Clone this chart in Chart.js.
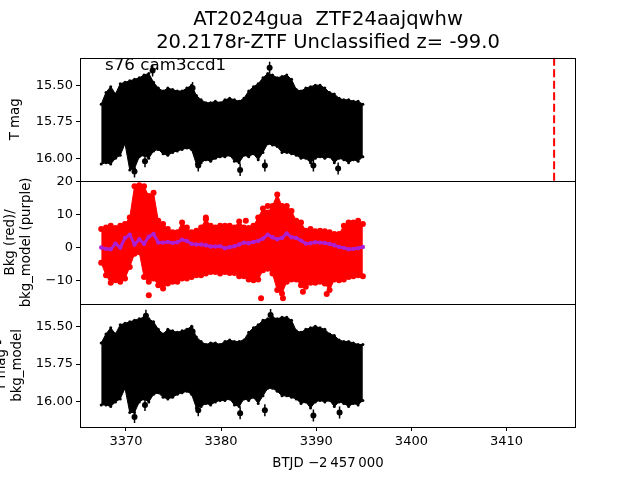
<!DOCTYPE html>
<html lang="en">
<head>
<meta charset="UTF-8">
<title>AT2024gua light curve</title>
<style>
  html, body { margin: 0; padding: 0; background: #fff; }
  #wrap { width: 640px; height: 480px; }
</style>
</head>
<body>
<div id="wrap"><canvas id="lc" width="640" height="480"></canvas></div>
<script src="https://cdn.jsdelivr.net/npm/chart.js"></script>
<script>
// ---- data ----
const titleLines = ['AT2024gua  ZTF24aajqwhw', '20.2178r-ZTF Unclassified z= -99.0'];
const sectorLabel = 's76 cam3ccd1';
const sectorLabelAt = [3367.8, 15.395];
const eventTime = 3415.0;

const times = [
  3367.4, 3367.9, 3368.4, 3368.9, 3369.4, 3369.9, 3370.4, 3370.9, 3371.4, 3371.9,
  3372.4, 3372.9, 3373.4, 3373.9, 3374.4, 3374.9, 3375.4, 3375.9, 3376.4, 3376.9,
  3377.4, 3377.9, 3378.4, 3378.9, 3379.4, 3379.9, 3380.4, 3380.9, 3381.4, 3381.9,
  3382.4, 3382.9, 3383.4, 3383.9, 3384.4, 3384.9, 3385.4, 3385.9, 3386.4, 3386.9,
  3387.4, 3387.9, 3388.4, 3388.9, 3389.4, 3389.9, 3390.4, 3390.9, 3391.4, 3391.9,
  3392.4, 3392.9, 3393.4, 3393.9, 3394.4, 3394.9
];

// T mag: bright (upper) and faint (lower) edge of the scatter band
const tmagHi = [
  15.63, 15.55, 15.51, 15.56, 15.49, 15.48, 15.47, 15.46, 15.45, 15.43,
  15.42, 15.48, 15.52, 15.54, 15.52, 15.53, 15.54, 15.54, 15.52, 15.50,
  15.57, 15.60, 15.62, 15.62, 15.61, 15.62, 15.60, 15.59, 15.60, 15.61,
  15.59, 15.54, 15.51, 15.49, 15.45, 15.42, 15.43, 15.45, 15.44, 15.43,
  15.46, 15.53, 15.54, 15.52, 15.51, 15.50, 15.50, 15.52, 15.55, 15.56,
  15.59, 15.60, 15.60, 15.61, 15.61, 15.63
];
const tmagLo = [
  16.04, 16.03, 16.04, 16.00, 15.98, 15.90, 16.08, 16.07, 15.99, 15.98,
  16.00, 15.95, 15.94, 15.97, 15.98, 15.96, 15.95, 15.94, 15.93, 15.94,
  16.04, 16.03, 16.01, 16.02, 16.00, 15.99, 15.99, 15.98, 16.02, 16.03,
  15.98, 15.99, 15.97, 16.01, 15.96, 15.90, 15.91, 15.92, 15.96, 15.96,
  15.97, 15.98, 16.00, 16.00, 16.03, 16.00, 15.99, 16.00, 15.99, 16.03,
  16.00, 16.01, 16.03, 16.01, 16.02, 15.99
];
const tmagOutT = [3370.9, 3372.0, 3372.8, 3377.0, 3377.6, 3382.0, 3384.6, 3385.1, 3389.7, 3392.3];
const tmagOut = [16.09, 16.02, 15.40, 15.52, 16.05, 16.08, 16.05, 15.38, 16.05, 16.07];

// background flux band and model
const bkgHi = [
  5.5, 6.0, 6.5, 5.8, 6.5, 7.0, 9.0, 18.5, 18.8, 18.5,
  15.5, 16.5, 8.0, 7.0, 5.5, 4.5, 4.5, 7.5, 6.0, 4.5,
  5.0, 6.0, 8.5, 6.5, 6.0, 6.5, 6.5, 6.5, 6.0, 7.8,
  6.0, 5.8, 6.5, 9.0, 11.7, 10.5, 12.5, 16.0, 12.5, 12.5,
  11.0, 8.0, 7.5, 5.0, 5.5, 4.8, 5.0, 4.8, 4.5, 4.0,
  4.0, 6.5, 7.5, 7.5, 8.0, 7.0
];
const bkgLo = [
  -4.7, -8.5, -10.8, -10.0, -10.5, -9.5, -6.0, -2.0, -1.5, -9.0,
  -10.5, -9.5, -11.5, -12.5, -11.0, -10.5, -10.5, -9.5, -9.5, -9.0,
  -8.5, -8.5, -8.0, -7.5, -7.5, -8.0, -7.5, -7.8, -7.8, -8.8,
  -8.8, -9.8, -10.0, -9.8, -7.0, -6.5, -8.0, -13.0, -14.0, -10.5,
  -9.8, -9.8, -11.5, -12.0, -10.8, -10.8, -10.5, -11.0, -13.0, -9.8,
  -10.0, -9.8, -9.0, -8.8, -8.5, -8.8
];
const bkgOutT = [3372.4, 3378.4, 3382.6, 3384.2, 3384.9, 3386.5, 3388.6, 3391.1];
const bkgOut = [-14.6, 9.0, 8.0, -15.5, 12.5, -15.5, -13.5, -14.2];
const bkgModel = [
  -0.1, -0.5, -0.6, 1.1, -0.1, 2.8, 3.8, 0.8, 2.4, 1.0,
  3.2, 4.0, 1.4, 1.4, 1.6, 1.3, 1.5, 2.3, 1.9, 1.0,
  0.8, 0.8, 0.6, 0.2, 0.2, 0.3, -0.3, 0.0, 0.3, 0.8,
  1.4, 1.2, 1.6, 1.9, 2.6, 3.8, 3.0, 2.4, 2.8, 4.2,
  3.0, 2.8, 2.0, 1.1, 1.2, 1.5, 1.4, 1.3, 1.0, 0.6,
  0.1, -0.2, -0.6, -0.5, -0.3, 0.1
];

// T mag - bkg_model band
const corrHi = [
  15.61, 15.55, 15.51, 15.55, 15.49, 15.48, 15.47, 15.46, 15.45, 15.44,
  15.45, 15.47, 15.52, 15.55, 15.52, 15.53, 15.54, 15.53, 15.52, 15.50,
  15.57, 15.60, 15.62, 15.61, 15.61, 15.62, 15.60, 15.59, 15.60, 15.60,
  15.59, 15.54, 15.51, 15.49, 15.46, 15.45, 15.44, 15.45, 15.44, 15.44,
  15.46, 15.53, 15.54, 15.52, 15.51, 15.50, 15.51, 15.52, 15.55, 15.56,
  15.59, 15.60, 15.60, 15.61, 15.62, 15.62
];
const corrLo = [
  16.02, 16.02, 16.03, 16.00, 15.98, 15.91, 16.07, 16.07, 16.00, 15.98,
  16.00, 15.95, 15.94, 15.97, 15.98, 15.97, 15.95, 15.94, 15.93, 15.95,
  16.04, 16.03, 16.01, 16.02, 16.00, 15.99, 15.99, 15.98, 16.02, 16.03,
  15.98, 15.99, 15.97, 16.01, 15.96, 15.91, 15.91, 15.93, 15.96, 15.96,
  15.97, 15.98, 16.01, 16.00, 16.04, 16.00, 15.99, 16.00, 15.99, 16.03,
  16.00, 16.01, 16.03, 16.01, 16.02, 15.99
];
const corrOutT = [3370.9, 3372.0, 3372.1, 3377.0, 3377.6, 3382.0, 3384.6, 3385.2, 3389.7, 3392.45];
const corrOut = [16.10, 16.02, 15.43, 15.535, 16.055, 16.075, 16.055, 15.425, 16.09, 16.07];

// axes
const xRange = [3365.17, 3417.3];
const xTicks = [3370, 3380, 3390, 3400, 3410];
const tmagRange = [15.313, 16.155];
const bkgRange = [-17.2, 20.1];
const corrRange = [15.352, 16.166];
const magTicks = [15.5, 15.75, 16.0];
const bkgTicks = [20, 10, 0, -10];

// ---- chart ----
const FONT = 'DejaVu Sans';
const PURPLE = '#ad1fd2';
Chart.defaults.font.family = FONT;
Chart.defaults.color = '#000';

const pts = (xs, ys) => xs.map((x, i) => ({x: x, y: ys[i]}));

// chart.js draws low "order" last, i.e. on top
function bandSets(axis, hi, lo, color, r) {
  const common = {
    yAxisID: axis, borderColor: color, borderWidth: 1, order: 5,
    pointRadius: r, pointBackgroundColor: color, pointBorderWidth: 0
  };
  return [
    Object.assign({data: pts(times, hi), fill: false}, common),
    Object.assign({data: pts(times, lo), fill: '-1', backgroundColor: color}, common)
  ];
}

// outlying points with short vertical error bars
function dots(axis, xs, ys, color, bars) {
  const sets = [{
    yAxisID: axis, data: pts(xs, ys), showLine: false, order: 3,
    pointRadius: 3, pointBackgroundColor: color, pointBorderWidth: 0
  }];
  if (bars) {
    sets.push({
      yAxisID: axis, data: pts(xs, ys), showLine: false, order: 3,
      pointStyle: 'line', rotation: 90, pointRadius: 6,
      pointBorderColor: color, pointBorderWidth: 1.5
    });
  }
  return sets;
}

function yAxis(range, reverse, weight, ticks, fmt, title, titlePad) {
  return {
    type: 'linear', position: 'left', stack: 'lc', weight: weight,
    min: range[0], max: range[1], reverse: reverse,
    afterBuildTicks: s => { s.ticks = ticks.map(v => ({value: v})); },
    afterFit: s => { s.width = 80; },
    ticks: {font: {size: 13}, color: '#000', padding: 3, callback: fmt},
    grid: {drawOnChartArea: false, drawTicks: true, tickLength: 4, color: '#000'},
    border: {display: false},
    title: {display: true, text: title, font: {size: 13.3}, padding: {top: titlePad, bottom: 0}}
  };
}

const magFmt = v => v.toFixed(2);
const bkgFmt = v => (v < 0 ? '\u2212' + Math.abs(v) : String(v));

const framePlugin = {
  id: 'frames',
  afterDatasetsDraw(chart) {
    const {ctx, chartArea} = chart;
    ctx.save();
    ctx.strokeStyle = '#000';
    ctx.lineWidth = 1;
    ['yTop', 'yMid', 'yBot'].forEach(id => {
      const s = chart.scales[id];
      ctx.strokeRect(Math.round(chartArea.left) + 0.5, Math.round(s.top) + 0.5,
        Math.round(chartArea.width) - 1, Math.round(s.bottom) - Math.round(s.top));
    });
    const x = chart.scales.x.getPixelForValue(sectorLabelAt[0]);
    const y = chart.scales.yTop.getPixelForValue(sectorLabelAt[1]);
    ctx.fillStyle = '#000';
    ctx.font = '16.7px "' + FONT + '"';
    ctx.textAlign = 'left';
    ctx.textBaseline = 'alphabetic';
    ctx.fillText(sectorLabel, x, y);
    ctx.restore();
  }
};

const datasets = [].concat(
  bandSets('yTop', tmagHi, tmagLo, '#000', 1.5),
  dots('yTop', tmagOutT, tmagOut, '#000', true),
  [{
    yAxisID: 'yTop', data: pts([eventTime, eventTime], tmagRange), order: 1,
    borderColor: '#ff0000', borderWidth: 2, borderDash: [8, 3.5], pointRadius: 0, fill: false
  }],
  bandSets('yMid', bkgHi, bkgLo, '#ff0000', 3),
  dots('yMid', bkgOutT, bkgOut, '#ff0000', false),
  [{
    yAxisID: 'yMid', data: pts(times, bkgModel), order: 0,
    borderColor: PURPLE, borderWidth: 3,
    pointRadius: 2.2, pointBackgroundColor: PURPLE, pointBorderWidth: 0, fill: false
  }],
  bandSets('yBot', corrHi, corrLo, '#000', 1.5),
  dots('yBot', corrOutT, corrOut, '#000', true)
);

new Chart(document.getElementById('lc'), {
  type: 'line',
  data: {datasets: datasets},
  options: {
    responsive: false,
    animation: false,
    layout: {padding: {left: 0, right: 64, top: 0, bottom: 0}},
    plugins: {
      legend: {display: false},
      tooltip: {enabled: false},
      title: {
        display: true, text: titleLines, color: '#000', fullSize: false,
        font: {size: 19.5, weight: 'normal', lineHeight: 1.15},
        padding: {top: 9, bottom: 4}
      }
    },
    scales: {
      x: {
        type: 'linear', position: 'bottom', min: xRange[0], max: xRange[1],
        afterBuildTicks: s => { s.ticks = xTicks.map(v => ({value: v})); },
        afterFit: s => { s.height = 53; },
        ticks: {font: {size: 13}, color: '#000', padding: 3, autoSkip: false, maxRotation: 0,
          callback: v => String(v)},
        grid: {drawOnChartArea: false, drawTicks: true, tickLength: 4, color: '#000'},
        border: {display: false},
        title: {display: true, text: 'BTJD \u22122\u2009457\u2009000', font: {size: 13.3}, padding: {top: 4, bottom: 8}}
      },
      yTop: yAxis(tmagRange, true, 3, magTicks, magFmt, ['T mag'], 7.7),
      yMid: yAxis(bkgRange, false, 2, bkgTicks, bkgFmt, ['Bkg (red)/', 'bkg_model (purple)'], 2.7),
      yBot: yAxis(corrRange, true, 1, magTicks, magFmt, ['T mag -', 'bkg_model'], -6)
    }
  },
  plugins: [framePlugin]
});
</script>
</body>
</html>
